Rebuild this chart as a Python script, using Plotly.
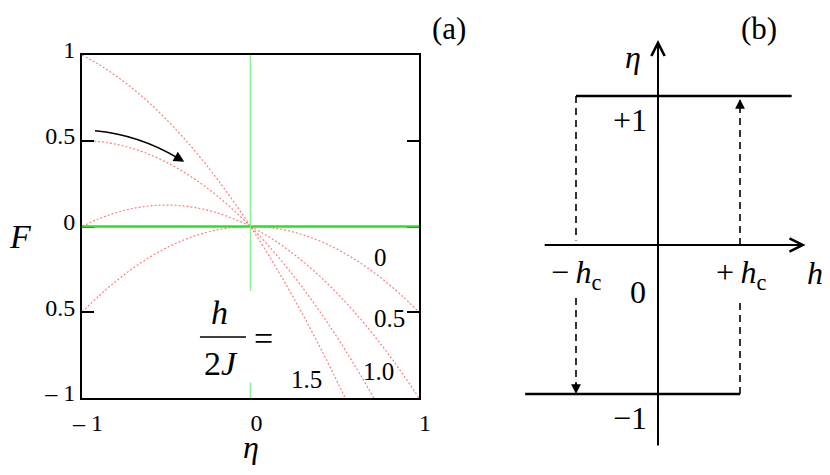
import plotly.graph_objects as go

# ---------------- data: panel (a)  F(eta) for several h/2J ----------------
eta = [-1.0, -0.9, -0.8, -0.7, -0.6, -0.5, -0.4, -0.3, -0.2, -0.1, 0.0,
       0.1, 0.2, 0.3, 0.4, 0.5, 0.6, 0.7, 0.8, 0.9, 1.0]
F_h00 = [-0.5, -0.405, -0.32, -0.245, -0.18, -0.125, -0.08, -0.045, -0.02, -0.005, 0.0,
         -0.005, -0.02, -0.045, -0.08, -0.125, -0.18, -0.245, -0.32, -0.405, -0.5]
F_h05 = [0.0, 0.045, 0.08, 0.105, 0.12, 0.125, 0.12, 0.105, 0.08, 0.045, 0.0,
         -0.055, -0.12, -0.195, -0.28, -0.375, -0.48, -0.595, -0.72, -0.855, -1.0]
F_h10 = [0.5, 0.495, 0.48, 0.455, 0.42, 0.375, 0.32, 0.255, 0.18, 0.095, 0.0,
         -0.105, -0.22, -0.345, -0.48, -0.625, -0.78, -0.945, -1.12, -1.305, -1.5]
F_h15 = [1.0, 0.945, 0.88, 0.805, 0.72, 0.625, 0.52, 0.405, 0.28, 0.145, 0.0,
         -0.155, -0.32, -0.495, -0.68, -0.875, -1.08, -1.295, -1.52, -1.755, -2.0]
curve_labels = ["0", "0.5", "1.0", "1.5"]
label_eta = [0.769, 0.822, 0.757, 0.335]
label_F = [-0.178, -0.539, -0.843, -0.895]

ytick_vals = [-1, -0.5, 0, 0.5, 1]
ytick_text = ["\u2013 1", "0.5", "0", "0.5", "1"]
xtick_vals = [-1, 0, 1]
xtick_text = ["\u2013 1", "0", "1"]

# ---------------- data: panel (b) hysteresis loop ----------------
h_c = 1.0
upper_h = [-1.0, 1.63]
upper_eta = [1.0, 1.0]
lower_h = [-1.62, 1.0]
lower_eta = [-1.0, -1.0]

SERIF = "Liberation Serif"
RED = "rgba(255,70,70,0.7)"

fig = go.Figure()

for F in [F_h00, F_h05, F_h10, F_h15]:
    fig.add_trace(go.Scatter(x=eta, y=F, mode="lines", line_shape="spline",
                             line=dict(color=RED, width=1.2, dash="2px,2px"),
                             xaxis="x", yaxis="y", showlegend=False, hoverinfo="skip"))

# panel (b) branches
fig.add_trace(go.Scatter(x=upper_h, y=upper_eta, mode="lines",
                         line=dict(color="black", width=2.5),
                         xaxis="x2", yaxis="y2", showlegend=False, hoverinfo="skip"))
fig.add_trace(go.Scatter(x=lower_h, y=lower_eta, mode="lines",
                         line=dict(color="black", width=2.5),
                         xaxis="x2", yaxis="y2", showlegend=False, hoverinfo="skip"))
# dashed switching lines
dash_segments = [
    ([-h_c, -h_c], [1.0, 0.03]),
    ([-h_c, -h_c], [-0.356, -0.97]),
    ([h_c, h_c], [-1.0, -0.356]),
    ([h_c, h_c], [0.0, 0.97]),
]
for xs, ys in dash_segments:
    fig.add_trace(go.Scatter(x=xs, y=ys, mode="lines",
                             line=dict(color="black", width=1.6, dash="7px,5px"),
                             xaxis="x2", yaxis="y2", showlegend=False, hoverinfo="skip"))

shapes = [
    dict(type="line", xref="x", yref="y", x0=-1, x1=1, y0=0, y1=0,
         line=dict(color="#22e622", width=2.5), layer="above"),
    dict(type="line", xref="x", yref="y", x0=0, x1=0, y0=-0.376, y1=1,
         line=dict(color="#90ee90", width=1.5), layer="above"),
    dict(type="line", xref="x", yref="y", x0=0, x1=0, y0=-1, y1=-0.907,
         line=dict(color="#90ee90", width=1.5), layer="above"),
    dict(type="line", xref="x", yref="y", x0=-0.300, x1=-0.027, y0=-0.644, y1=-0.644,
         line=dict(color="black", width=1.5)),
    dict(type="path", xref="x", yref="y",
         path="M -0.923,0.559 Q -0.661,0.535 -0.430,0.399",
         line=dict(color="black", width=1.5)),
]


def txt(x, y, t, size, xref="x", yref="y"):
    return dict(x=x, y=y, xref=xref, yref=yref, text=t, showarrow=False,
                xanchor="center", yanchor="middle",
                font=dict(family=SERIF, size=size, color="black"))


ann = []
for t, xx, yy in zip(curve_labels, label_eta, label_F):
    ann.append(txt(xx, yy, t, 25))
ann += [
    txt(-0.184, -0.504, "<i>h</i>", 34),
    txt(-0.175, -0.796, "2<i>J</i>", 34),
    txt(0.077, -0.655, "=", 34),
    dict(x=-0.393, y=0.378, ax=-0.430, ay=0.399, axref="x", ayref="y", xref="x", yref="y",
         text="", showarrow=True, arrowhead=2, arrowsize=1.4, arrowwidth=1.5, arrowcolor="black"),
    txt(20 / 830, 1 - 237 / 475, "<i>F</i>", 34, "paper", "paper"),
    txt(251 / 830, 1 - 447 / 475, "<i>\u03b7</i>", 32, "paper", "paper"),
    txt(449 / 830, 1 - 28 / 475, "(a)", 31, "paper", "paper"),
    txt(759 / 830, 1 - 28 / 475, "(b)", 31, "paper", "paper"),
]
ann += [
    dict(x=1.80, y=0, ax=-1.40, ay=0, xref="x2", yref="y2", axref="x2", ayref="y2",
         text="", showarrow=True, arrowhead=5, arrowsize=1.3, arrowwidth=2, arrowcolor="black"),
    dict(x=0, y=1.376, ax=0, ay=-1.356, xref="x2", yref="y2", axref="x2", ayref="y2",
         text="", showarrow=True, arrowhead=5, arrowsize=1.3, arrowwidth=2, arrowcolor="black"),
    dict(x=-h_c, y=-1.0, ax=0, ay=-12, xref="x2", yref="y2",
         text="", showarrow=True, arrowhead=2, arrowsize=1.3, arrowwidth=1.5, arrowcolor="black"),
    dict(x=h_c, y=1.0, ax=0, ay=12, xref="x2", yref="y2",
         text="", showarrow=True, arrowhead=2, arrowsize=1.3, arrowwidth=1.5, arrowcolor="black",
         standoff=3),
]
b_labels = [
    ("<i>\u03b7</i>", -0.305, 1.265),
    ("+1", -0.341, 0.84),
    ("0", -0.244, -0.315),
    ("\u22121", -0.341, -1.161),
    ("\u2212\u2009<i>h</i><sub>c</sub>", -1.0, -0.2),
    ("+\u2009<i>h</i><sub>c</sub>", 1.01, -0.2),
    ("<i>h</i>", 1.915, -0.188),
]
for t, xx, yy in b_labels:
    ann.append(txt(xx, yy, t, 32, "x2", "y2"))

fig.update_layout(
    width=830, height=475,
    margin=dict(l=0, r=0, t=0, b=0, autoexpand=False),
    paper_bgcolor="white", plot_bgcolor="white",
    showlegend=False,
    font=dict(family=SERIF, color="black"),
    xaxis=dict(domain=[82 / 830, 419 / 830], range=[-1, 1], showgrid=False, zeroline=False,
               showline=True, linecolor="black", linewidth=2, mirror=True,
               tickvals=xtick_vals, ticktext=xtick_text, ticks="",
               tickfont=dict(family=SERIF, size=24, color="black"), ticklabelstandoff=2,
               ticklabelshift=6, automargin=False, fixedrange=True),
    yaxis=dict(domain=[1 - 398 / 475, 1 - 55 / 475], range=[-1, 1], showgrid=False, zeroline=False,
               showline=True, linecolor="black", linewidth=2, mirror="allticks",
               tickvals=ytick_vals, ticktext=ytick_text, ticks="inside", ticklen=12,
               tickwidth=2, tickcolor="black", automargin=False, ticklabelshift=-5,
               tickfont=dict(family=SERIF, size=24, color="black"), fixedrange=True),
    xaxis2=dict(domain=[494 / 830, 822 / 830], range=[-2, 2], visible=False, fixedrange=True),
    yaxis2=dict(domain=[1 - 453.6 / 475, 1 - 36.4 / 475], range=[-1.4, 1.4], visible=False,
                anchor="x2", fixedrange=True),
    shapes=shapes,
    annotations=ann,
)

fig.write_html("out.html", config={"displayModeBar": False},
               post_script="document.body.style.margin='0';document.body.style.overflow='hidden';")
